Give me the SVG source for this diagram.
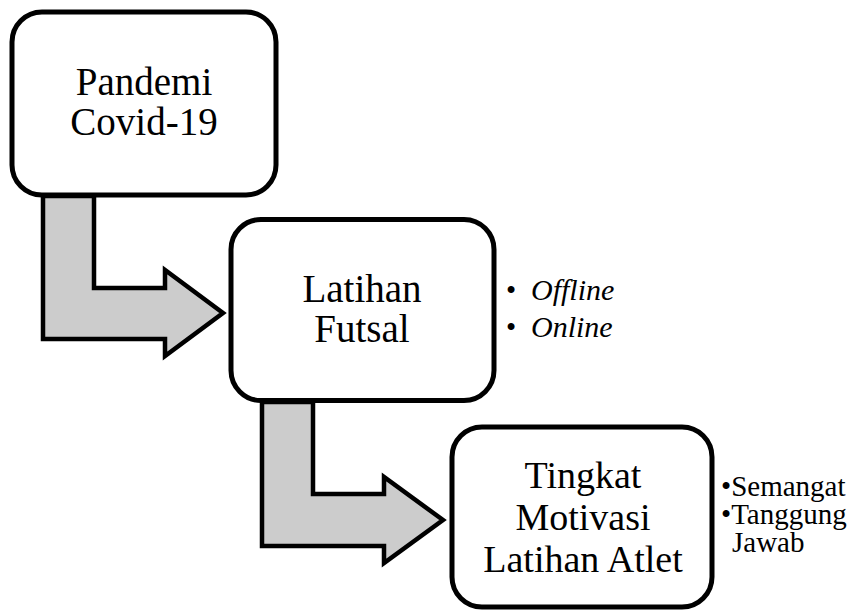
<svg xmlns="http://www.w3.org/2000/svg" width="851" height="614" viewBox="0 0 851 614">
<style>
.box{fill:#fff;stroke:#000;stroke-width:5}
.arr{fill:#cccccc;stroke:#000;stroke-width:4.5;stroke-linejoin:miter}
text{font-family:'Liberation Serif','Times New Roman',Times,serif;fill:#000}
.t{font-size:39px;text-anchor:middle}
.s{font-size:29px}
.i{font-style:italic;font-size:30px}
</style>
<rect width="851" height="614" fill="#fff"/>
<g id="connectors">
<polygon class="arr" points="43,196 94,196 94,288 165,288 165,270 223,313 165,356 165,339 43,339"/>
<polygon class="arr" points="262,402 313,402 313,494 384,494 384,477 443,520 384,563 384,546 262,546"/>
</g>
<g id="node1">
<rect class="box" x="12" y="12" width="264" height="183" rx="30"/>
<text class="t" x="144" y="95">Pandemi</text>
<text class="t" x="144" y="135">Covid-19</text>
</g>
<g id="node2">
<rect class="box" x="231" y="219.5" width="263" height="181" rx="30"/>
<text class="t" x="362" y="302">Latihan</text>
<text class="t" x="362" y="342">Futsal</text>
</g>
<g id="node2-notes">
<text class="s" x="506" y="300">•</text>
<text class="s i" x="531" y="300">Offline</text>
<text class="s" x="506" y="337">•</text>
<text class="s i" x="531" y="337">Online</text>
</g>
<g id="node3">
<rect class="box" x="452" y="427" width="260" height="180" rx="30"/>
<text class="t" x="583" y="488" style="font-size:38px">Tingkat</text>
<text class="t" x="583" y="530" style="font-size:38px">Motivasi</text>
<text class="t" x="583" y="572" style="font-size:38px">Latihan Atlet</text>
</g>
<g id="node3-notes">
<text class="s" x="721" y="496">•Semangat</text>
<text class="s" x="721" y="524">•Tanggung</text>
<text class="s" x="732" y="552">Jawab</text>
</g>
</svg>
